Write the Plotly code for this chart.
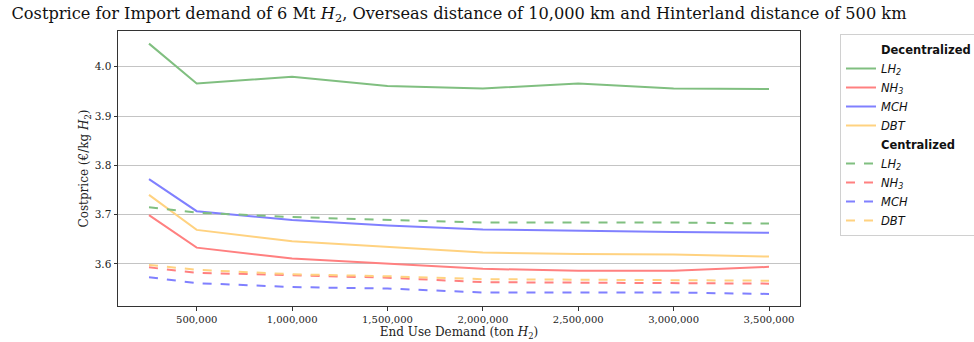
import plotly.graph_objects as go

# End-use demand levels (ton H2)
demand = [250000, 500000, 1000000, 1500000, 2000000, 2500000, 3000000, 3500000]

# Cost price (EUR/kg H2), decentralized conversion
dec_lh2 = [4.047, 3.966, 3.980, 3.961, 3.956, 3.966, 3.956, 3.955]
dec_nh3 = [3.699, 3.633, 3.611, 3.601, 3.590, 3.586, 3.586, 3.594]
dec_mch = [3.772, 3.707, 3.689, 3.678, 3.670, 3.667, 3.665, 3.663]
dec_dbt = [3.740, 3.669, 3.646, 3.634, 3.623, 3.620, 3.619, 3.615]

# Cost price (EUR/kg H2), centralized conversion
cen_lh2 = [3.715, 3.704, 3.695, 3.690, 3.684, 3.684, 3.684, 3.682]
cen_nh3 = [3.593, 3.582, 3.577, 3.572, 3.563, 3.562, 3.562, 3.560]
cen_mch = [3.573, 3.561, 3.553, 3.550, 3.542, 3.542, 3.542, 3.539]
cen_dbt = [3.598, 3.588, 3.579, 3.575, 3.569, 3.568, 3.568, 3.566]

carriers = ["<i>LH<sub>2</sub></i>", "<i>NH<sub>3</sub></i>", "<i>MCH</i>", "<i>DBT</i>"]
colors = ["#80bf80", "#ff8080", "#8080ff", "#ffd280"]

x_ticks = [500000, 1000000, 1500000, 2000000, 2500000, 3000000, 3500000]
y_ticks = [3.6, 3.7, 3.8, 3.9, 4.0]

fig = go.Figure()


def header(text):
    fig.add_trace(go.Scatter(
        x=[None], y=[None], mode="lines", name=f"<b>{text}</b>",
        line=dict(color="rgba(0,0,0,0)", width=0), hoverinfo="skip"))


header("Decentralized")
for name, col, ys in zip(carriers, colors, [dec_lh2, dec_nh3, dec_mch, dec_dbt]):
    fig.add_trace(go.Scatter(x=demand, y=ys, mode="lines", name=name,
                             line=dict(color=col, width=2)))

header("Centralized")
for name, col, ys in zip(carriers, colors, [cen_lh2, cen_nh3, cen_mch, cen_dbt]):
    fig.add_trace(go.Scatter(x=demand, y=ys, mode="lines", name=name,
                             line=dict(color=col, width=2, dash="dash")))

serif = "DejaVu Serif"

fig.update_layout(
    width=974, height=342,
    margin=dict(l=118, r=174, t=31, b=36, autoexpand=False),
    paper_bgcolor="white", plot_bgcolor="white",
    font=dict(family=serif, size=10, color="#222"),
    title=dict(
        text="Costprice for Import demand of 6 Mt <i>H</i><sub>2</sub>, Overseas distance of 10,000 km and Hinterland distance of 500 km",
        x=0.5, xref="paper", xanchor="center",
        y=1 - 13 / 342, yref="container", yanchor="middle",
        font=dict(family=serif, size=16.2, color="#111")),
    showlegend=True,
    legend=dict(
        x=(840 - 118) / 682, y=(306 - 34) / 275, xanchor="left", yanchor="top",
        bgcolor="white", bordercolor="#d0d0d0", borderwidth=1,
        font=dict(family="DejaVu Sans", size=11.5, color="#111"),
        tracegroupgap=0, itemwidth=30),
)

fig.update_xaxes(
    range=[87500, 3662500], tickvals=x_ticks, tickformat=",",
    showgrid=False, zeroline=False,
    showline=True, mirror=True, linecolor="#333", linewidth=1,
    ticks="outside", ticklen=3.5, tickcolor="#333",
    tickfont=dict(family=serif, size=10),
    title=dict(text="End Use Demand (ton <i>H</i><sub>2</sub>)",
               font=dict(family=serif, size=12), standoff=4),
)
fig.update_yaxes(
    range=[3.5146, 4.0726], tickvals=y_ticks, tickformat=".1f",
    showgrid=True, gridcolor="#c4c4c4", gridwidth=1, zeroline=False,
    showline=True, mirror=True, linecolor="#333", linewidth=1,
    ticks="outside", ticklen=3.5, tickcolor="#333",
    tickfont=dict(family=serif, size=10.5),
    title=dict(text="Costprice (€/kg <i>H</i><sub>2</sub>)",
               font=dict(family=serif, size=12), standoff=3),
)

fig.write_html("out.html")
